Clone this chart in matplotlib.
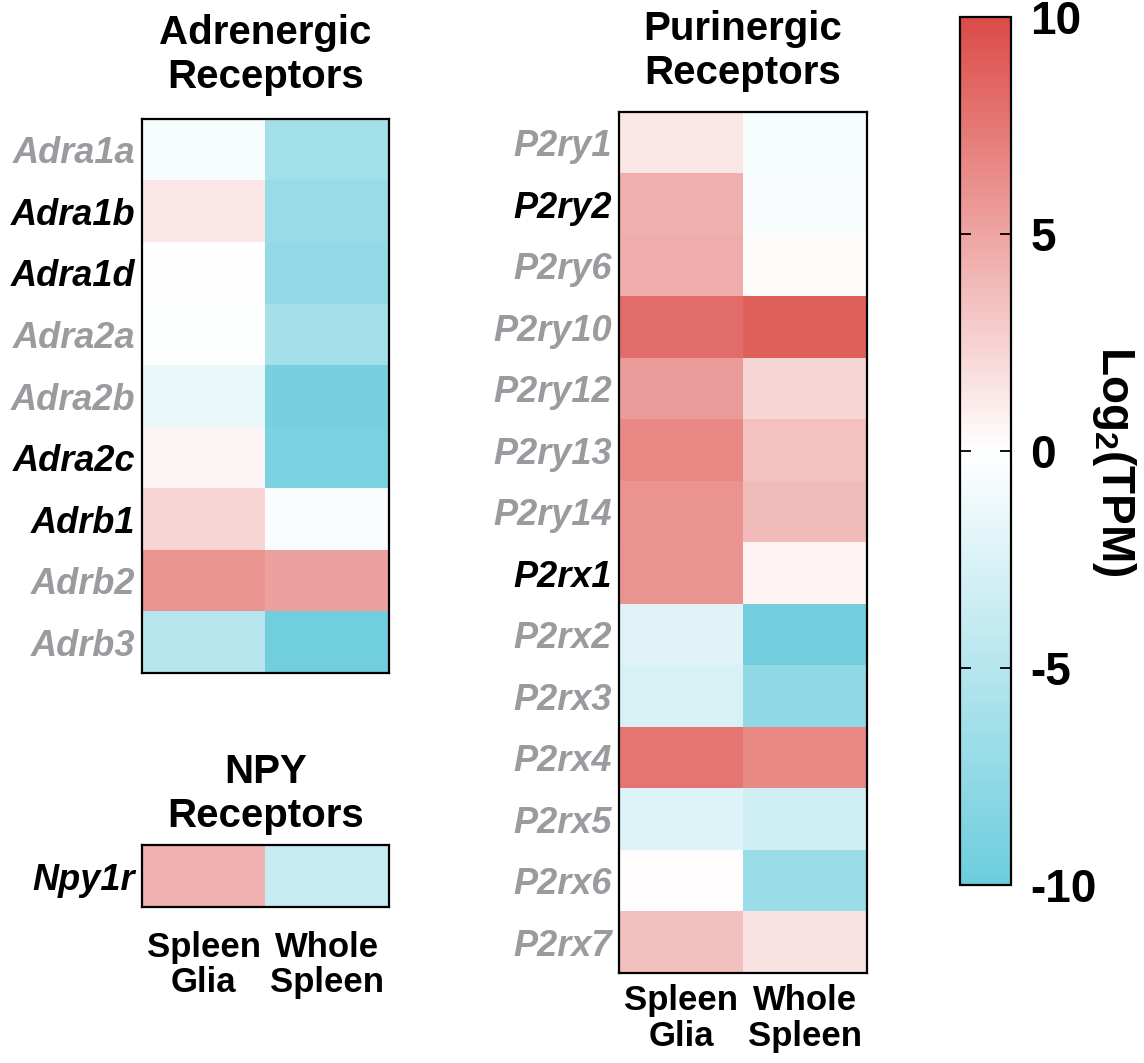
import numpy as np
import matplotlib
matplotlib.use("Agg")
import matplotlib.pyplot as plt
from matplotlib.colors import LinearSegmentedColormap

plt.rcParams['font.family'] = ['Liberation Sans', 'DejaVu Sans']
plt.rcParams['mathtext.fontset'] = 'custom'
plt.rcParams['mathtext.bf'] = 'Liberation Sans:bold'
plt.rcParams['mathtext.default'] = 'bf'
plt.rcParams['axes.unicode_minus'] = False

# Log2(TPM) expression, columns: Spleen Glia, Whole Spleen
samples = ["Spleen\nGlia", "Whole\nSpleen"]

adrenergic_genes = ["Adra1a", "Adra1b", "Adra1d", "Adra2a", "Adra2b",
                    "Adra2c", "Adrb1", "Adrb2", "Adrb3"]
adrenergic_glia = [-0.5, 1.4, 0.0, -0.1, -1.4, 0.6, 2.3, 5.9, -4.8]
adrenergic_whole = [-6.2, -6.9, -7.3, -6.1, -9.2, -9.0, -0.3, 5.2, -9.7]

npy_genes = ["Npy1r"]
npy_glia = [4.2]
npy_whole = [-3.9]

purinergic_genes = ["P2ry1", "P2ry2", "P2ry6", "P2ry10", "P2ry12", "P2ry13",
                    "P2ry14", "P2rx1", "P2rx2", "P2rx3", "P2rx4", "P2rx5",
                    "P2rx6", "P2rx7"]
purinergic_glia = [1.4, 4.4, 4.6, 8.1, 5.5, 6.5, 6.0, 5.9, -2.1, -2.7, 7.6,
                   -2.3, 0.1, 3.5]
purinergic_whole = [-0.5, -0.4, 0.2, 8.8, 2.3, 3.4, 3.7, 0.7, -9.6, -7.5, 6.5,
                    -3.2, -6.8, 1.5]

# genes shown in black (the rest are greyed out)
highlighted = ["Adra1b", "Adra1d", "Adra2c", "Adrb1", "Npy1r", "P2ry2", "P2rx1"]

GREY = "#9a9b9f"
cmap = LinearSegmentedColormap.from_list(
    "tpm", ["#6dcddd", "#ffffff", "#dc4b47"])

W, H = 1144, 1063
fig = plt.figure(figsize=(W / 100, H / 100), dpi=100)


def px_axes(x0, y0, x1, y1):
    """ Axes from pixel box (top-left origin). """
    return fig.add_axes([x0 / W, 1 - y1 / H, (x1 - x0) / W, (y1 - y0) / H])


def draw_heatmap(ax, genes, glia, whole, title, title_y, xlabels, xpad):
    data = np.column_stack([glia, whole])
    im = ax.imshow(data, cmap=cmap, vmin=-10, vmax=10, aspect="auto",
                   interpolation="nearest")
    ax.set_yticks(range(len(genes)))
    ax.set_yticklabels(genes, fontsize=26, fontweight="bold", style="italic")
    for lbl, g in zip(ax.get_yticklabels(), genes):
        lbl.set_color("black" if g in highlighted else GREY)
    if xlabels:
        ax.set_xticks(range(2))
        ax.set_xticklabels(samples, fontsize=25, fontweight="bold",
                           linespacing=1.1)
    else:
        ax.set_xticks([])
    ax.tick_params(axis="y", length=0, pad=5)
    ax.tick_params(axis="x", length=0, pad=xpad)
    for s in ax.spines.values():
        s.set_linewidth(1.6)
    bb = ax.get_position()
    fig.text((bb.x0 + bb.x1) / 2, 1 - title_y / H, title, ha="center",
             va="center", fontsize=29, fontweight="bold", linespacing=1.2)
    return im


ax_adr = px_axes(142, 119, 389, 673)
draw_heatmap(ax_adr, adrenergic_genes, adrenergic_glia, adrenergic_whole,
             "Adrenergic\nReceptors", 55, False, 0)

ax_npy = px_axes(142, 845, 389, 907)
draw_heatmap(ax_npy, npy_genes, npy_glia, npy_whole,
             "NPY\nReceptors", 794, True, 17)

ax_pur = px_axes(619, 112, 867, 973)
im = draw_heatmap(ax_pur, purinergic_genes, purinergic_glia, purinergic_whole,
                  "Purinergic\nReceptors", 51, True, 8)

# Colour bar
cax = px_axes(960, 17, 1011, 885)
cb = fig.colorbar(im, cax=cax, ticks=[-10, -5, 0, 5, 10])
cb.outline.set_linewidth(1.6)
cax.yaxis.set_ticks_position("both")
cax.yaxis.set_tick_params(which="major", direction="in", length=8, width=1.3,
                          labelsize=33, pad=14, left=True, right=True,
                          labelleft=False, labelright=True)
cax.minorticks_off()
for t in cax.get_yticklabels():
    t.set_fontweight("bold")
fig.text(1114 / W, 1 - 461 / H, "Log$_2$(TPM)", rotation=270, ha="center",
         va="center", fontsize=33, fontweight="bold")

fig.savefig("out.png", dpi=100)
